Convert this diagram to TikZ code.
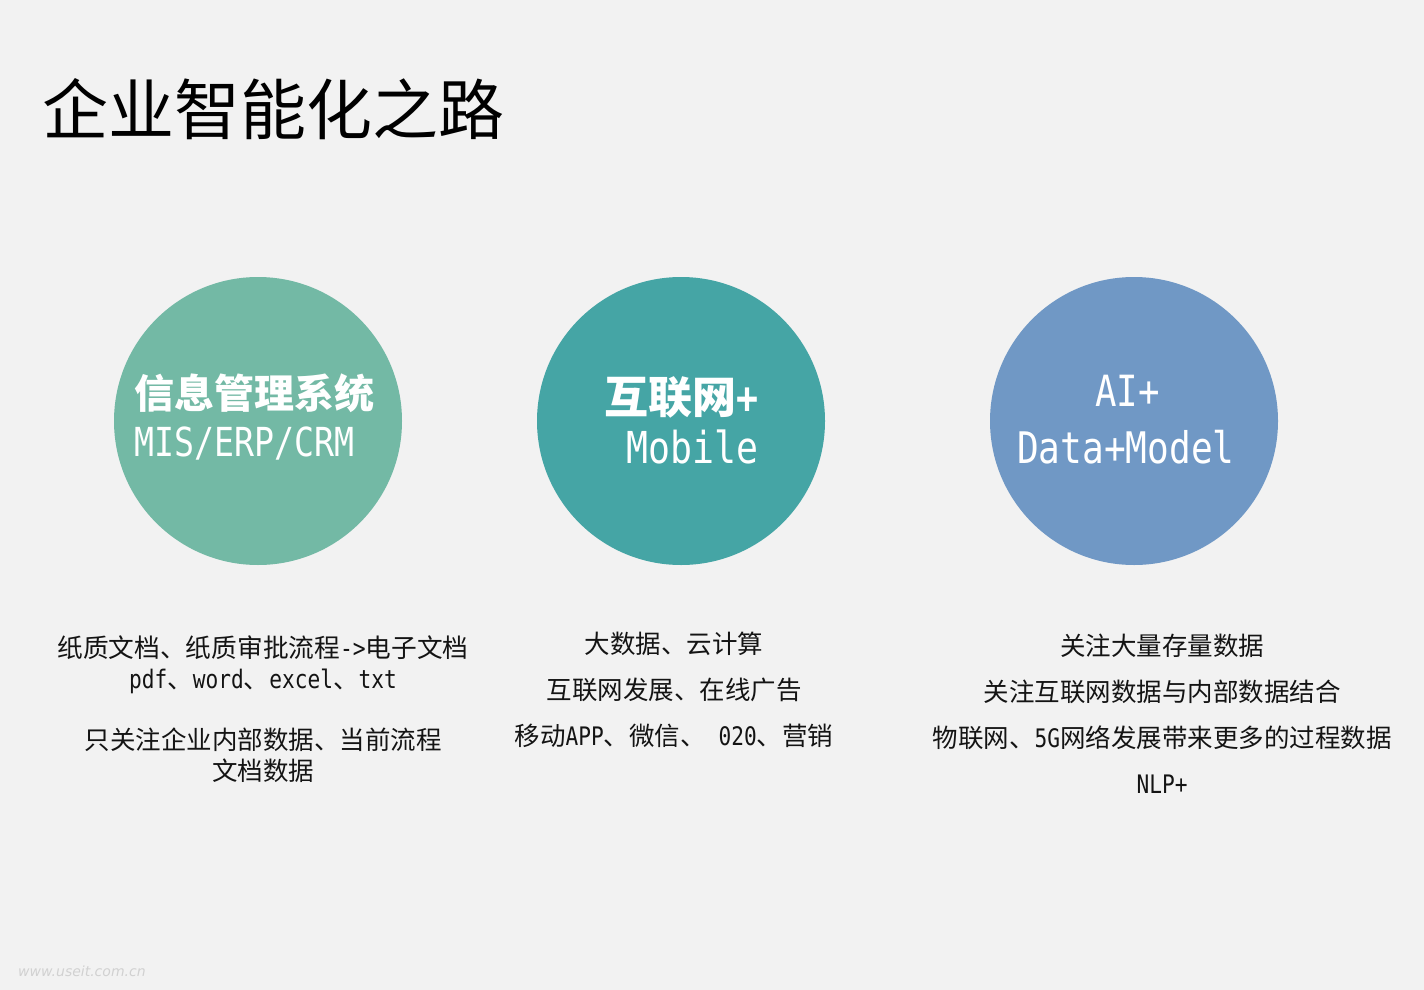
\documentclass[tikz,border=0pt]{standalone}
\usepackage{fontspec}
\setmainfont{Noto Sans CJK SC}
\newfontfamily\latf[FakeStretch=0.83]{DejaVu Sans Mono}
\newfontfamily\wmfont{DejaVu Sans}
\newcommand\latn[1]{{\latf #1}}
\definecolor{bgc}{HTML}{F2F2F2}
\definecolor{cgreen}{HTML}{73B9A5}
\definecolor{cteal}{HTML}{45A5A5}
\definecolor{cblue}{HTML}{7098C5}
\definecolor{txt}{HTML}{141414}
\begin{document}
\begin{tikzpicture}[x=1pt,y=-1pt,
  circ/.style={circle,minimum size=288pt,inner sep=0pt},
  ctext/.style={inner sep=0pt,text=white,anchor=base west},
  body/.style={inner sep=0pt,text=txt,anchor=base,font=\fontsize{25.5}{30}\selectfont},
  bodyl/.style={body,font=\fontsize{25.7}{30}\selectfont}]
\fill[bgc] (0,0) rectangle (1424,990);
\useasboundingbox (0,0) rectangle (1424,990);
% title
\node[inner sep=0pt,anchor=base west,text=black,font=\fontsize{66}{70}\selectfont] (title) at (42,134) {企业智能化之路};
% circles
\node[circ,fill=cgreen] (c1) at (258,421) {};
\node[circ,fill=cteal] (c2) at (681,421) {};
\node[circ,fill=cblue] (c3) at (1134,421) {};
% circle texts
\node[ctext,font=\fontsize{40}{44}\selectfont\bfseries] (t1a) at (134,408) {信息管理系统};
\node[ctext,font=\fontsize{40}{44}\selectfont] (t1b) at (134,456) {\latn{MIS/ERP/CRM}};
\node[ctext,font=\fontsize{44}{48}\selectfont\bfseries] (t2a) at (604,413) {互联网\latn{+}};
\node[ctext,font=\fontsize{44}{48}\selectfont] (t2b) at (626,463) {\latn{Mobile}};
\node[ctext,font=\fontsize{43}{48}\selectfont] (t3a) at (1095,406) {\latn{AI+}};
\node[ctext,font=\fontsize{43.5}{48}\selectfont] (t3b) at (1017,463) {\latn{Data+Model}};
% left texts
\node[bodyl] (l1) at (263,657) {纸质文档、纸质审批流程\latn{->}电子文档};
\node[body] (l2) at (263,688) {\latn{pdf}、\latn{word}、\latn{excel}、\latn{txt}};
\node[body] (l3) at (263,749) {只关注企业内部数据、当前流程};
\node[body] (l4) at (263,780) {文档数据};
% middle texts
\node[body] (m1) at (674,653) {大数据、云计算};
\node[body] (m2) at (674,699) {互联网发展、在线广告};
\node[body] (m3) at (674,745) {移动\latn{APP}、微信、\latn{ 020}、营销};
% right texts
\node[body] (r1) at (1162,655) {关注大量存量数据};
\node[body] (r2) at (1162,701) {关注互联网数据与内部数据结合};
\node[body] (r3) at (1162,747) {物联网、\latn{5G}网络发展带来更多的过程数据};
\node[body] (r4) at (1162,793) {\latn{NLP+}};
% watermark
\node[inner sep=0pt,anchor=base west,text=black!18,font=\wmfont\itshape\fontsize{14}{16}\selectfont] (wm) at (18,976) {www.useit.com.cn};
\end{tikzpicture}
\end{document}
